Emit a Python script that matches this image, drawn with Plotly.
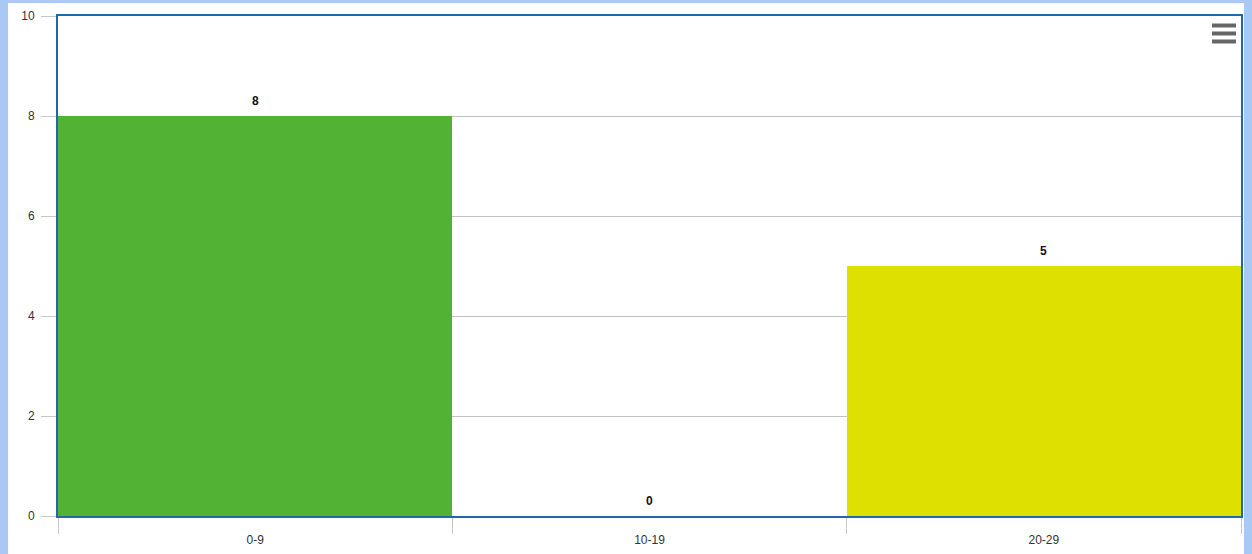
import plotly.graph_objects as go

# Age groups and counts
categories = ["0-9", "10-19", "20-29"]
counts = [8, 0, 5]
bar_colors = ["#52b234", "#52b234", "#dde000"]
y_ticks = [0, 2, 4, 6, 8, 10]

W, H = 1252, 554
ML, MR, MT, MB = 58, 11, 16, 38
PW = W - ML - MR
PH = H - MT - MB


def px_x(p):
    return (p - ML) / PW


def px_y(p):
    return 1 - (p - MT) / PH


fig = go.Figure(
    go.Bar(
        x=categories,
        y=counts,
        marker=dict(color=bar_colors, line=dict(width=0)),
        hoverinfo="x+y",
    )
)

# value labels above each bar
annotations = [
    dict(x=c, y=v, xref="x", yref="y", text=f"<b>{v}</b>", showarrow=False,
         yanchor="bottom", yshift=6,
         font=dict(family="Liberation Sans, Arial", size=12, color="#111111"))
    for c, v in zip(categories, counts)
]

shapes = [
    # white card on the light blue frame
    dict(type="rect", xref="paper", yref="paper", layer="below",
         x0=px_x(8), x1=px_x(1244), y0=px_y(560), y1=px_y(3),
         fillcolor="white", line=dict(width=0)),
]
# menu icon
for yy in (25.5, 33.5, 41.5):
    shapes.append(dict(type="line", xref="paper", yref="paper",
                       x0=px_x(1212), x1=px_x(1236), y0=px_y(yy), y1=px_y(yy),
                       line=dict(color="#666666", width=4)))

fig.update_layout(
    width=W, height=H,
    margin=dict(l=ML, r=MR, t=MT, b=MB, pad=0, autoexpand=False),
    paper_bgcolor="#a9c9f5",
    plot_bgcolor="white",
    bargap=0,
    showlegend=False,
    shapes=shapes,
    annotations=annotations,
    font=dict(family="Liberation Sans, Arial", size=12, color="#333333"),
    xaxis=dict(
        type="category",
        automargin=False,
        tickson="boundaries",
        ticks="outside", ticklen=16, tickcolor="#c8c8c8", tickwidth=1,
        ticklabelstandoff=12,
        showgrid=False,
        showline=True, linecolor="#2068a8", linewidth=2, mirror=True,
        tickfont=dict(size=12, color="#333333"),
        fixedrange=True,
    ),
    yaxis=dict(
        range=[0, 10],
        automargin=False,
        tickvals=y_ticks,
        ticks="outside", ticklen=15, tickcolor="#c8c8c8", tickwidth=1,
        ticklabelstandoff=4,
        showgrid=True, gridcolor="#c0c0c0", gridwidth=1,
        zeroline=False,
        showline=True, linecolor="#2068a8", linewidth=2, mirror=True,
        tickfont=dict(size=12, color="#333333"),
        fixedrange=True,
    ),
)

fig.write_html("out.html", config={"displayModeBar": False})
